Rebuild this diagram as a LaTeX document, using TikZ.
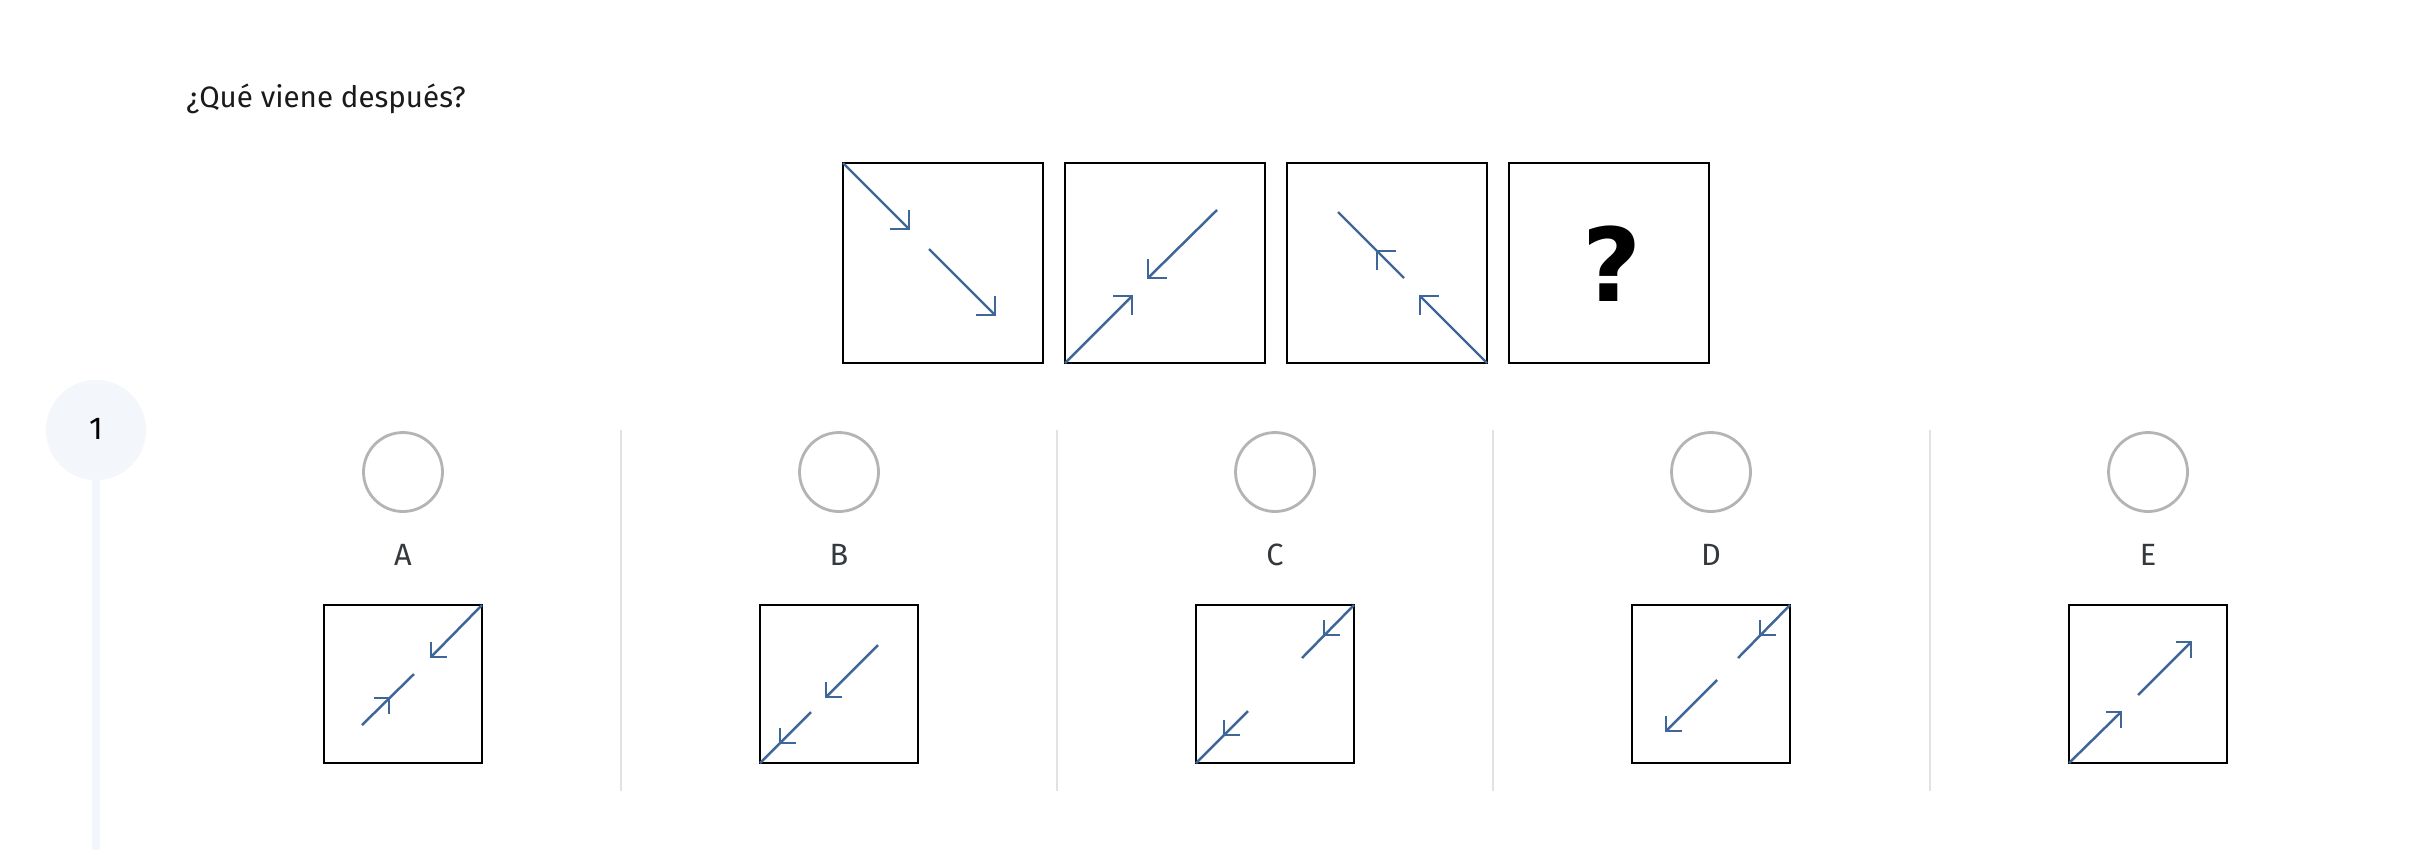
\documentclass[tikz,border=0pt]{standalone}
\usepackage{fontspec}
\setmainfont{Fira Sans}
\newfontfamily\qfont{DejaVu Sans}
\definecolor{arrowblue}{RGB}{62,102,150}
\definecolor{radiogray}{RGB}{180,180,180}
\definecolor{sepgray}{RGB}{226,226,226}
\definecolor{stepfill}{RGB}{243,246,250}
\definecolor{headtext}{RGB}{26,26,26}
\definecolor{labeltext}{RGB}{52,57,62}
\newcommand{\hl}{19}
\newcommand{\headat}[4]{\draw[arrline] ({#1-(#3)*\hl},{#2}) -- (#1,#2) -- ({#1},{#2-(#4)*\hl});}
\begin{document}
\begin{tikzpicture}[x=0.02cm,y=-0.02cm,
  qframe/.style={draw=black,line width=1.2pt,minimum width=4cm,minimum height=4cm,inner sep=0pt,outer sep=0pt},
  aframe/.style={draw=black,line width=1.2pt,minimum width=3.16cm,minimum height=3.16cm,inner sep=0pt,outer sep=0pt},
  arrline/.style={draw=arrowblue,line width=1.4pt},
  radio/.style={circle,draw=radiogray,line width=1.6pt,minimum size=1.58cm,inner sep=0pt},
  optlabel/.style={anchor=base,text=labeltext,font=\fontsize{17.5}{20}\selectfont,inner sep=0pt},
  sepline/.style={draw=sepgray,line width=1.1pt}]
\useasboundingbox[fill=white] (0,0) rectangle (2409,850);

% heading
\node[anchor=base west,inner sep=0pt,text=headtext,font=\fontsize{16.8}{20}\selectfont] (title) at (186,107) {¿Qué viene después?};

% step marker
\coordinate (railend) at (96,850);
\node[circle,fill=stepfill,minimum size=2cm,inner sep=0pt] (step1) at (96,430) {};
\draw[draw=stepfill,line width=4.5pt] (step1.south) -- (railend);
\node[anchor=base,inner sep=0pt,font=\fontsize{18}{20}\selectfont,text=black] (num) at (96,439) {1};

% sequence boxes
\node[qframe] (s1) at (943,263) {};
\node[qframe] (s2) at (1165,263) {};
\node[qframe] (s3) at (1387,263) {};
\node[qframe] (s4) at (1609,263) {};

\begin{scope}[shift={(843,163)}]
  \draw[arrline] (0,0) -- (66,66); \headat{66}{66}{1}{1}
  \draw[arrline] (86,86) -- (152,152); \headat{152}{152}{1}{1}
\end{scope}
\begin{scope}[shift={(1065,163)}]
  \draw[arrline] (152,47) -- (83,115); \headat{83}{115}{-1}{1}
  \draw[arrline] (0,200) -- (67,133); \headat{67}{133}{1}{-1}
\end{scope}
\begin{scope}[shift={(1287,163)}]
  \draw[arrline] (51,49) -- (117,115); \headat{90}{88}{-1}{-1}
  \draw[arrline] (200,200) -- (133,133); \headat{133}{133}{-1}{-1}
\end{scope}
\node[font=\qfont\bfseries\fontsize{58}{58}\selectfont,inner sep=0pt] (qm) at (1612,264) {?};

% separators
\foreach \x in {621,1057,1493,1930} \draw[sepline] (\x,430) -- (\x,791);

% options
\foreach \cx/\l in {403/A,839/B,1275/C,1711/D,2148/E}{
  \node[radio] (r\l) at (\cx,472) {};
  \node[optlabel] (l\l) at (\cx,565) {\l};
  \node[aframe] (o\l) at (\cx,684) {};
}

\renewcommand{\hl}{15.5}
% A
\begin{scope}[shift={(324,605)}]
  \draw[arrline] (158,0) -- (107,52); \headat{107}{52}{-1}{1}
  \draw[arrline] (38,120) -- (90,69); \headat{65}{93}{1}{-1}
\end{scope}
% B
\begin{scope}[shift={(760,605)}]
  \draw[arrline] (118,40) -- (66,92); \headat{66}{92}{-1}{1}
  \draw[arrline] (51,107) -- (0,158); \headat{20}{138}{-1}{1}
\end{scope}
% C
\begin{scope}[shift={(1196,605)}]
  \draw[arrline] (158,0) -- (106,53); \headat{128}{30}{-1}{1}
  \draw[arrline] (52,106) -- (0,158); \headat{28}{130}{-1}{1}
\end{scope}
% D
\begin{scope}[shift={(1632,605)}]
  \draw[arrline] (158,0) -- (106,53); \headat{128}{30}{-1}{1}
  \draw[arrline] (85,75) -- (34,126); \headat{34}{126}{-1}{1}
\end{scope}
% E
\begin{scope}[shift={(2069,605)}]
  \draw[arrline] (0,158) -- (52,107); \headat{52}{107}{1}{-1}
  \draw[arrline] (69,90) -- (122,37); \headat{122}{37}{1}{-1}
\end{scope}
\end{tikzpicture}
\end{document}
